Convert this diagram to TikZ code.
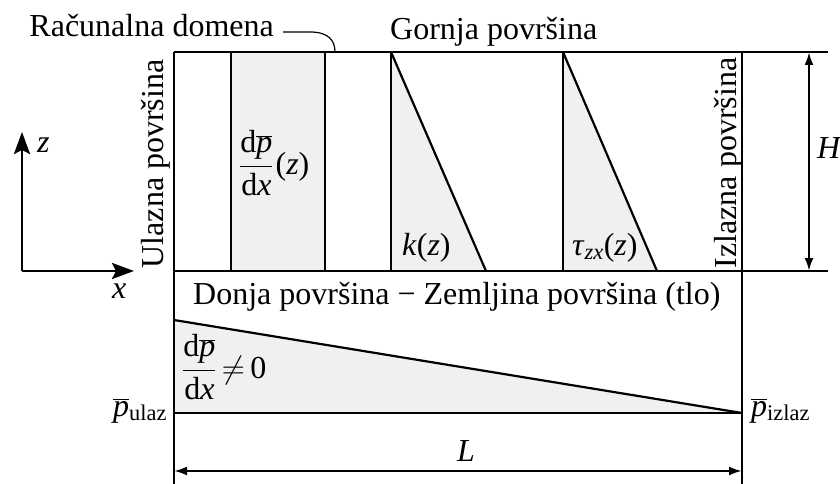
\RequirePackage{fix-cm}
\documentclass[tikz,border=0pt]{standalone}
\usepackage{fontspec}
\setmainfont{Liberation Serif}
\usetikzlibrary{arrows.meta}
\newcommand{\myPbar}{$\overline{\hbox{\itshape p}}$}
\newcommand{\myFrac}{$\displaystyle\frac{\hbox{d}\overline{\hbox{\itshape p}}}{\hbox{d\itshape x}}$}
\begin{document}
\begin{tikzpicture}[x=1pt,y=-1pt,
  lbl/.style={inner sep=0pt, font=\fontsize{32}{38}\selectfont},
  frame/.style={line width=2.8pt},
  inner/.style={line width=2.2pt},
  shade/.style={fill=black!6},
  dimarrow/.style={line width=2.4pt, {Latex[length=13pt,width=9pt]}-{Latex[length=13pt,width=9pt]}},
  axisarrow/.style={line width=2.8pt, -{Stealth[length=22pt,width=16pt,inset=4pt]}},
]
\useasboundingbox (0,0) rectangle (840,484);
% coordinates
\coordinate (TL) at (174,52);
\coordinate (TR) at (742,52);
\coordinate (BL) at (174,271);
\coordinate (BR) at (742,271);
\coordinate (TE) at (828,52);
\coordinate (BE) at (828,271);
\coordinate (LB) at (174,484);
\coordinate (RB) at (742,484);
% shaded regions
\fill[shade] (231,52) rectangle (325,271);
\fill[shade] (391,52) -- (486,271) -- (391,271) -- cycle;
\fill[shade] (563,52) -- (657,271) -- (563,271) -- cycle;
\fill[shade] (174,320) -- (742,413) -- (174,413) -- cycle;
% inner lines
\draw[inner] (231,52) -- (231,271);
\draw[inner] (325,52) -- (325,271);
\draw[inner] (391,52) -- (391,271);
\draw[inner] (391,52) -- (486,271);
\draw[inner] (563,52) -- (563,271);
\draw[inner] (563,52) -- (657,271);
\coordinate (PU) at (174,320);
\coordinate (PI) at (742,413);
\coordinate (PL) at (174,413);
\draw[inner] (PU) -- (PI);
\draw[inner] (PL) -- (PI);
% frame
\draw[frame] (TL) -- (TE);
\draw[frame] (BL) -- (BE);
\draw[frame] (TL) -- (LB);
\draw[frame] (TR) -- (RB);
% dimensions
\coordinate (HT) at (809,52);
\coordinate (HB) at (809,271);
\draw[dimarrow] (HT) -- (HB);
\coordinate (LL) at (174,471);
\coordinate (LR) at (742,471);
\draw[dimarrow] (LL) -- (LR);
% axes
\coordinate (O) at (22,271);
\coordinate (AX) at (134,271);
\coordinate (AZ) at (22,132);
\draw[axisarrow] (O) -- (AX);
\draw[axisarrow] (O) -- (AZ);
% leader
\coordinate (LD1) at (283,32);
\coordinate (LD2) at (335,52);
\draw[line width=1.2pt] (LD1) -- (310,32) .. controls (328,32) and (335,40) .. (LD2);
% labels
\node[lbl, anchor=base east] (rd) at (274,37) {Računalna domena};
\node[lbl, anchor=base west] (gp) at (390,40) {Gornja površina};
\node[lbl, anchor=base, rotate=90] (up) at (163,164) {Ulazna površina};
\node[lbl, anchor=base, rotate=90] (ip) at (736,163) {Izlazna površina};
\node[lbl, anchor=base west] (dpz) at (239,174) {\myFrac\kern2pt(\textit{z})};
\node[lbl, anchor=base west] (kz) at (402,255) {\textit{k}(\textit{z})};
\node[lbl, anchor=base west] (tz) at (572,255) {\textit{τ}\textsubscript{\itshape zx}(\textit{z})};
\node[lbl, anchor=base west] (H) at (817,158) {\textit{H}};
\node[lbl, anchor=base west] (zl) at (37,152) {\textit{z}};
\node[lbl, anchor=base west] (xl) at (112,298) {\textit{x}};
\node[lbl, anchor=base west] (dn) at (193,304) {Donja površina − Zemljina površina (tlo)};
\node[lbl, anchor=base west] (dp0) at (182,378) {\myFrac\,$\neq$\,0};
\node[lbl, anchor=base west] (pu) at (113,416) {\myPbar\textsubscript{ulaz}};
\node[lbl, anchor=base west] (pi) at (751,416) {\myPbar\textsubscript{izlaz}};
\node[lbl, anchor=base west] (L) at (457,461) {\textit{L}};
\end{tikzpicture}
\end{document}
